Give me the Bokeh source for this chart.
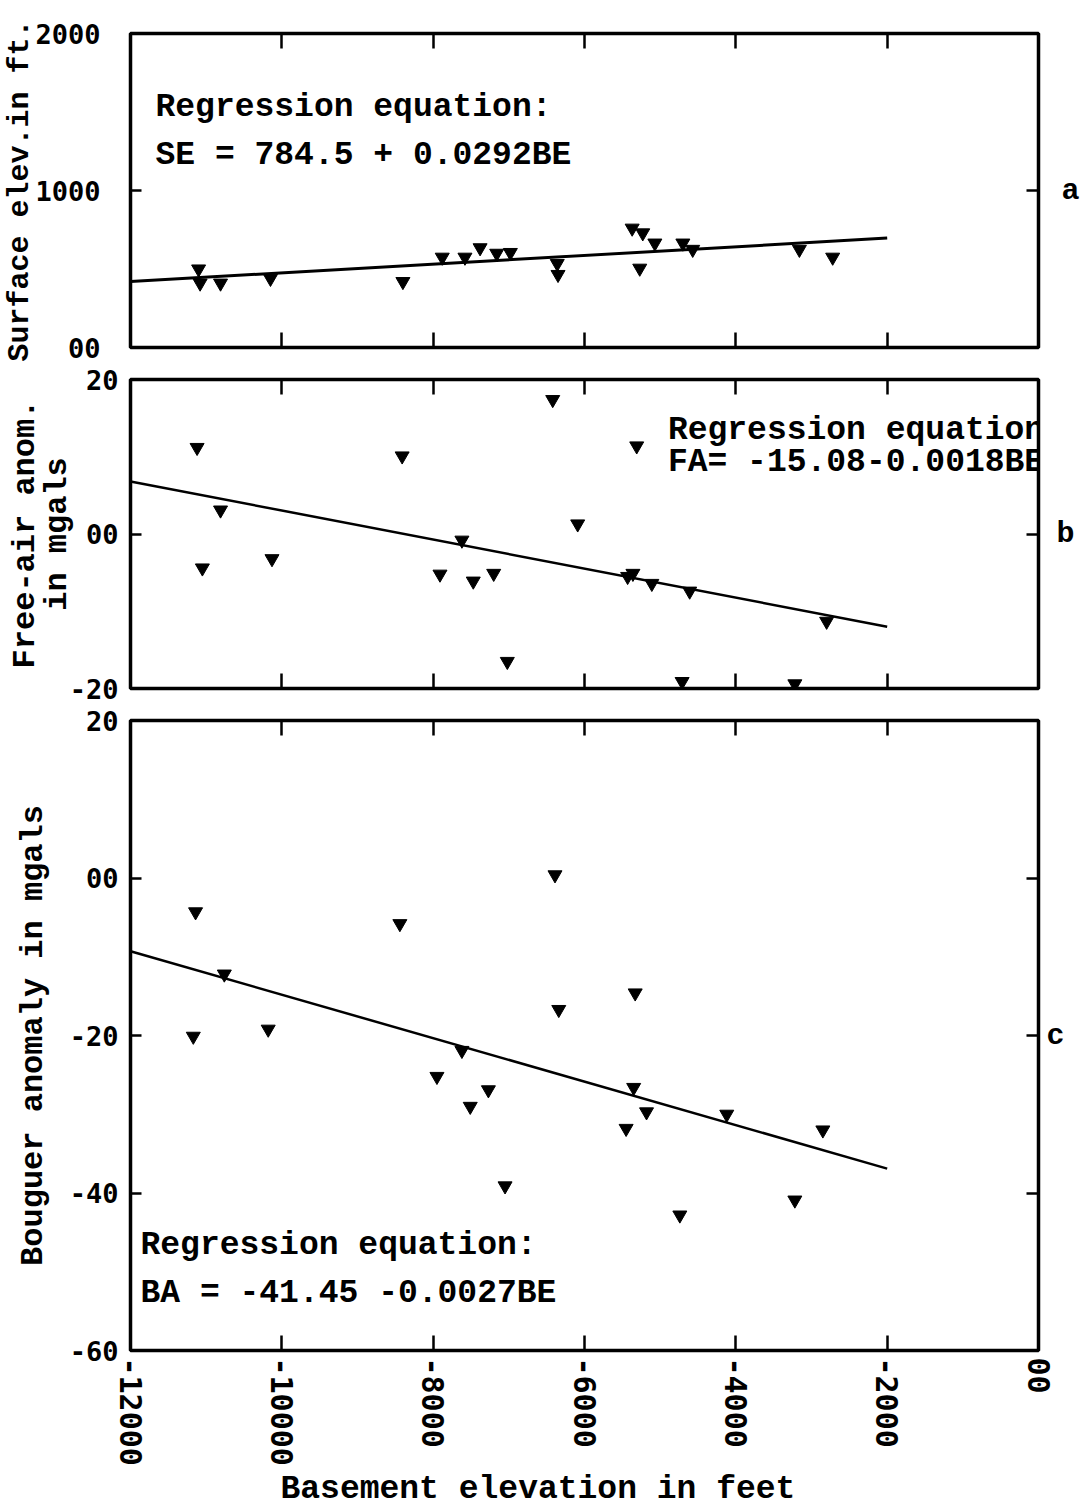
import math
from bokeh.plotting import figure
from bokeh.layouts import column
from bokeh.models import Range1d, FixedTicker, LinearAxis, Label, Title
from bokeh.embed import file_html
from bokeh.resources import INLINE

# ---------------- data ----------------
x_ticks = [-12000, -10000, -8000, -6000, -4000, -2000, 0]
x_tick_labels = ["-12000", "-10000", "-8000", "-6000", "-4000", "-2000", "00"]

# panel a: surface elevation (ft) vs basement elevation (ft)
be_a = [-11100, -11080, -10810, -10150, -8400, -7880, -7580, -7380, -7160, -6980,
        -6360, -6350, -5370, -5230, -5070, -5270, -4700, -4570, -3160, -2720]
se_a = [500, 410, 410, 440, 420, 575, 575, 635, 600, 605,
        535, 465, 760, 730, 665, 505, 665, 625, 625, 575]
a_ticks = [0, 1000, 2000]
a_tick_labels = ["00", "1000", "2000"]

# panel b: free-air anomaly (mgal)
be_b = [-11120, -10810, -11050, -10130, -8410, -7620, -7910, -7470, -7200, -7020,
        -6420, -6090, -5310, -5360, -5430, -5110, -4610, -2800, -4710, -3220]
fa_b = [11.2, 3.1, -4.4, -3.2, 10.1, -0.8, -5.2, -6.1, -5.1, -16.5,
        17.4, 1.3, 11.4, -5.1, -5.5, -6.4, -7.4, -11.3, -19.1, -19.4]
b_ticks = [-20, 0, 20]
b_tick_labels = ["-20", "00", "20"]

# panel c: Bouguer anomaly (mgal)
be_c = [-11140, -8440, -6390, -10760, -11170, -10180, -6340, -7620, -7950, -7270,
        -7510, -7050, -5330, -5350, -5180, -5450, -4120, -2850, -3220, -4740]
ba_c = [-4.3, -5.8, 0.4, -12.2, -20.1, -19.2, -16.7, -21.9, -25.2, -26.9,
        -29.0, -39.1, -14.6, -26.6, -29.7, -31.8, -30.0, -32.0, -40.9, -42.8]
c_ticks = [-60, -40, -20, 0, 20]
c_tick_labels = ["-60", "-40", "-20", "00", "20"]

# regression lines (end points)
line_be = [-12000, -2000]
line_a = [420, 697]
line_b = [6.8, -12.0]
line_c = [-9.3, -36.9]

# panel letters on the right side
a_letter = {1000: "a"}
b_letter = {0: "b"}
c_letter = {-40: "", -20: "c", 0: ""}

# ---------------- styling helpers ----------------
MONO = "Liberation Mono"
TICKFONT = "DejaVu Sans Mono"
x_range = Range1d(-12000, 0)
inner_x = [-10000, -8000, -6000, -4000, -2000]


def hide_labels(axis, ticks):
    axis.major_label_overrides = {t: "" for t in ticks}
    axis.major_label_text_font_size = "1px"
    axis.major_label_standoff = 0


def style_axis(axis, ticks, tick_len=13):
    axis.ticker = FixedTicker(ticks=ticks)
    axis.axis_line_color = None
    axis.major_tick_in = tick_len
    axis.major_tick_out = 0
    axis.major_tick_line_width = 2.5
    axis.major_tick_line_color = "black"
    axis.minor_tick_line_color = None


def make_panel(y_range, y_ticks, y_tick_labels, frame_height, top, bottom, y_standoff,
               y_label, y_label_size, y_label_standoff, letters, letter_standoff,
               show_x_labels=False):
    p = figure(x_range=x_range, y_range=y_range, frame_width=908, frame_height=frame_height,
               min_border_left=130, min_border_right=54, min_border_top=top,
               min_border_bottom=bottom, output_backend="svg", toolbar_location=None,
               background_fill_color="white", border_fill_color="white")
    p.grid.visible = False
    p.outline_line_color = "black"
    p.outline_line_width = 3.5

    # bottom axis
    xb = p.xaxis[0]
    style_axis(xb, inner_x, 15)
    if show_x_labels:
        xb.ticker = FixedTicker(ticks=x_ticks)
        xb.major_label_overrides = {t: l for t, l in zip(x_ticks, x_tick_labels)}
        xb.major_label_orientation = -math.pi / 2
        xb.major_label_text_font = TICKFONT
        xb.major_label_text_font_style = "bold"
        xb.major_label_text_font_size = "30px"
        xb.major_label_text_color = "black"
        xb.major_label_standoff = 7
    else:
        hide_labels(xb, inner_x)
    # top axis
    xt = LinearAxis()
    style_axis(xt, inner_x, 15)
    hide_labels(xt, inner_x)
    p.add_layout(xt, "above")

    # left axis
    yl = p.yaxis[0]
    style_axis(yl, y_ticks, 11)
    yl.major_label_overrides = {t: l for t, l in zip(y_ticks, y_tick_labels)}
    yl.major_label_text_font = TICKFONT
    yl.major_label_text_font_style = "bold"
    yl.major_label_text_font_size = "27px"
    yl.major_label_text_color = "black"
    yl.major_label_standoff = y_standoff
    yl.axis_label = y_label
    yl.axis_label_text_font = MONO
    yl.axis_label_text_font_style = "bold"
    yl.axis_label_text_font_size = y_label_size
    yl.axis_label_text_color = "black"
    yl.axis_label_text_line_height = 0.85
    yl.axis_label_standoff = y_label_standoff

    # right axis carrying the panel letter
    yr = LinearAxis()
    style_axis(yr, list(letters.keys()), 12)
    yr.major_label_overrides = dict(letters)
    yr.major_label_text_font = MONO
    yr.major_label_text_font_style = "bold"
    yr.major_label_text_font_size = "30px"
    yr.major_label_text_color = "black"
    yr.major_label_standoff = letter_standoff
    p.add_layout(yr, "right")
    return p


def add_text(p, x, y, text, size="33px"):
    p.add_layout(Label(x=x, y=y, text=text, text_font=MONO, text_font_style="bold",
                       text_font_size=size, text_color="black",
                       text_align="left", text_baseline="alphabetic"))


# ---------------- panel a ----------------
pa = make_panel(Range1d(0, 2000), a_ticks, a_tick_labels, 314, 33, 17, 30,
                "Surface elev.in ft.", "30px", -5, a_letter, 23)
pa.line(line_be, line_a, line_color="black", line_width=3)
pa.scatter(be_a, se_a, marker="inverted_triangle", size=14, fill_color="black",
           line_color="black")
add_text(pa, -11670, 1527, "Regression equation:")
add_text(pa, -11670, 1220, "SE = 784.5 + 0.0292BE")

# ---------------- panel b ----------------
pb = make_panel(Range1d(-20, 20), b_ticks, b_tick_labels, 309, 15, 16, 12,
                "Free-air anom.\nin mgals", "32px", -9, b_letter, 18)
pb.line(line_be, line_b, line_color="black", line_width=2.5)
pb.scatter(be_b, fa_b, marker="inverted_triangle", size=14, fill_color="black",
           line_color="black")
add_text(pb, -4898, 13.4, "Regression equation")
add_text(pb, -4898, 9.2, "FA= -15.08-0.0018BE")

# ---------------- panel c ----------------
pc = make_panel(Range1d(-60, 20), c_ticks, c_tick_labels, 630, 16, 156, 12,
                "Bouguer anomaly in mgals", "32px", 15, c_letter, 8, show_x_labels=True)
pc.line(line_be, line_c, line_color="black", line_width=2.5)
pc.scatter(be_c, ba_c, marker="inverted_triangle", size=14, fill_color="black",
           line_color="black")
add_text(pc, -11868, -46.7, "Regression equation:")
add_text(pc, -11868, -52.7, "BA = -41.45 -0.0027BE")
pc.add_layout(Title(text="Basement elevation in feet", align="left", offset=150,
                    text_font=MONO, text_font_style="bold", text_font_size="33px",
                    text_color="black", standoff=0), "below")

layout = column(pa, pb, pc, spacing=0)
open("out.html", "w").write(file_html(layout, INLINE))
